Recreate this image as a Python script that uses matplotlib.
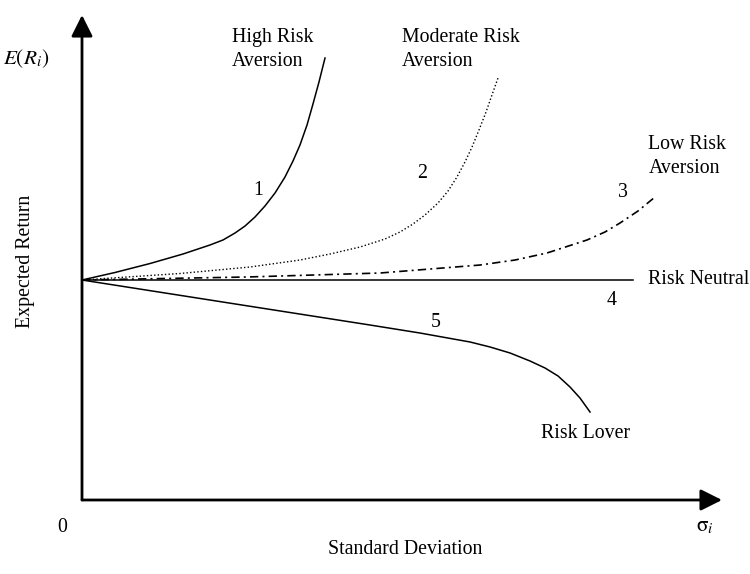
import matplotlib
matplotlib.use('Agg')
import matplotlib.pyplot as plt

plt.rcParams['font.family'] = ['Liberation Serif', 'DejaVu Serif']
plt.rcParams['mathtext.fontset'] = 'stix'

# indifference curves (standard deviation, expected return)
high_sd = [0, 0.516, 1.063, 1.578, 2.0, 2.203, 2.391, 2.547, 2.703, 2.859, 3.016, 3.172,
           3.297, 3.406, 3.516, 3.609, 3.703, 3.797]
high_er = [4.536, 4.691, 4.876, 5.072, 5.258, 5.361, 5.505, 5.649, 5.835, 6.062, 6.330, 6.660,
           6.990, 7.320, 7.732, 8.165, 8.619, 9.113]

mod_sd = [0, 1.531, 2.625, 3.406, 3.875, 4.344, 4.734, 4.969, 5.172, 5.359, 5.563,
          5.719, 5.859, 5.984, 6.094, 6.203, 6.313, 6.406, 6.5]
mod_er = [4.536, 4.670, 4.804, 4.948, 5.072, 5.216, 5.381, 5.526, 5.691, 5.876, 6.124,
          6.371, 6.660, 6.969, 7.278, 7.629, 8.0, 8.351, 8.701]

low_sd = [0, 2.578, 4.656, 6.219, 6.766, 7.266, 7.891, 8.172, 8.406, 8.688, 8.953]
low_er = [4.536, 4.598, 4.680, 4.845, 4.948, 5.093, 5.361, 5.526, 5.711, 5.959, 6.247]

neutral_sd = [0, 8.61]
neutral_er = [4.536, 4.536]

lover_sd = [0, 2.297, 4.5, 5.281, 6.063, 6.375, 6.688, 7.0, 7.234, 7.438, 7.625, 7.781, 7.938]
lover_er = [4.536, 4.062, 3.608, 3.443, 3.258, 3.155, 3.031, 2.866, 2.722, 2.557, 2.330, 2.103, 1.814]

fig = plt.figure(figsize=(7.5, 5.74), dpi=100)
ax = fig.add_axes([82 / 750, 74 / 574, 640 / 750, 485 / 574])
ax.set_xlim(0, 10)
ax.set_ylim(0, 10)
ax.axis('off')

ax.plot(high_sd, high_er, color='k', lw=1.1)
ax.plot(mod_sd, mod_er, color='k', lw=1.0, linestyle=(0, (1, 1.6)))
ax.plot(low_sd, low_er, color='k', lw=1.2, linestyle=(0, (5, 2.5, 1.2, 2.5)))
ax.plot(neutral_sd, neutral_er, color='k', lw=1.1)
ax.plot(lover_sd, lover_er, color='k', lw=1.1)

# axes with arrow heads
arrow = dict(arrowstyle='-|>,head_length=1.0,head_width=0.5', color='k', lw=2,
             mutation_scale=13, shrinkA=0, shrinkB=0)
ax.annotate('', xy=(0, 10), xytext=(0, 0), arrowprops=arrow, annotation_clip=False)
ax.annotate('', xy=(10, 0), xytext=(0, 0), arrowprops=arrow, annotation_clip=False)

fs = 14.3
ls = 1.35
ax.text(2.34, 9.28, 'High Risk\nAversion', fontsize=fs, ha='left', va='center', linespacing=ls)
ax.text(5.0, 9.28, 'Moderate Risk\nAversion', fontsize=fs, ha='left', va='center', linespacing=ls)
ax.text(8.85, 7.08, 'Low Risk\nAversion', fontsize=fs, ha='left', va='center', linespacing=ls)
ax.text(8.84, 4.54, 'Risk Neutral', fontsize=fs, ha='left', va='center')
ax.text(7.17, 1.38, 'Risk Lover', fontsize=fs, ha='left', va='center')

ax.text(2.75, 6.39, '1', fontsize=fs, ha='center', va='center')
ax.text(5.31, 6.74, '2', fontsize=fs, ha='center', va='center')
ax.text(8.45, 6.35, '3', fontsize=fs, ha='center', va='center')
ax.text(8.27, 4.12, '4', fontsize=fs, ha='center', va='center')
ax.text(5.52, 3.67, '5', fontsize=fs, ha='center', va='center')

ax.text(-0.875, 9.11, r'$E(R_i)$', fontsize=fs + 1, ha='center', va='center', clip_on=False)
ax.text(-0.89, 4.91, 'Expected Return', fontsize=fs, rotation=90,
        ha='center', va='center', clip_on=False)
ax.text(-0.31, -0.56, '0', fontsize=fs, ha='center', va='center', clip_on=False)
ax.text(5.05, -1.03, 'Standard Deviation', fontsize=fs, ha='center', va='center', clip_on=False)
ax.text(9.73, -0.56, r'$\mathrm{\sigma}_i$', fontsize=fs + 1, ha='center', va='center', clip_on=False)

fig.savefig('out.png', dpi=100)
